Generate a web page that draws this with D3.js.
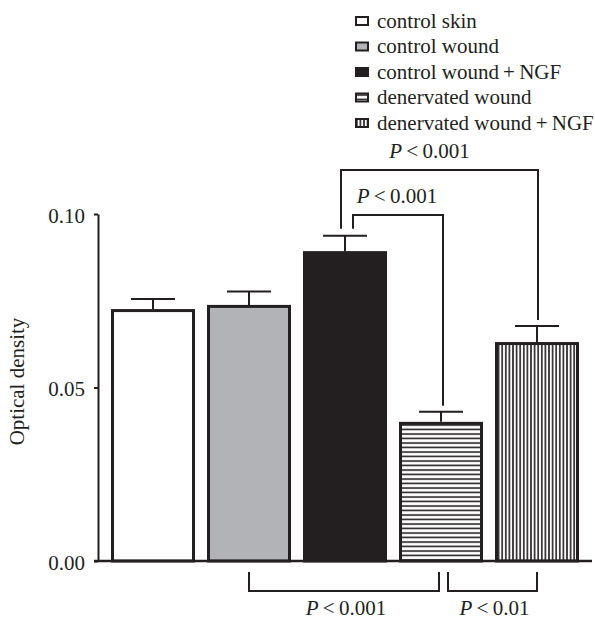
<!DOCTYPE html>
<html>
<head>
<meta charset="utf-8">
<script src="https://cdn.jsdelivr.net/npm/d3@7"></script>
<style>
  body { margin: 0; background: #fff; }
  svg text { font-family: "Liberation Serif", "Times New Roman", serif; fill: #231f20; }
</style>
</head>
<body>
<svg id="chart" width="595" height="619"></svg>
<script>
// Data
const groups = ['control skin', 'control wound', 'control wound\u2009+\u2009NGF',
                'denervated wound', 'denervated wound\u2009+\u2009NGF'];
const means = [0.0726, 0.0738, 0.0893, 0.0401, 0.0631];
const errTops = [0.0755, 0.0777, 0.0937, 0.0430, 0.0677];
const fills = ['#ffffff', '#b2b3b6', '#231f20', 'url(#hstripe)', 'url(#vstripe)'];
const yTicks = [0.00, 0.05, 0.10];

// comparisons above the bars (level in data units)
const topBrackets = [
  { from: 2, to: 4, level: 0.1127, label: '0.001', dx: -4 },
  { from: 2, to: 3, level: 0.0997, label: '0.001', dx: 8 }
];
// comparisons below the axis
const bottomBrackets = [
  { from: 1, to: 3, label: '0.001' },
  { from: 3, to: 4, label: '0.01' }
];

const ink = '#231f20';
const fs = 21;
const svg = d3.select('#chart');
const defs = svg.append('defs');

// stripe patterns
const hp = defs.append('pattern').attr('id', 'hstripe')
  .attr('patternUnits', 'userSpaceOnUse').attr('width', 8).attr('height', 4.5);
hp.append('rect').attr('width', 8).attr('height', 4.5).attr('fill', '#fff');
hp.append('line').attr('x1', 0).attr('x2', 8).attr('y1', 2).attr('y2', 2)
  .attr('stroke', ink).attr('stroke-width', 1.6);
const vp = defs.append('pattern').attr('id', 'vstripe')
  .attr('patternUnits', 'userSpaceOnUse').attr('width', 3.6).attr('height', 8);
vp.append('rect').attr('width', 3.6).attr('height', 8).attr('fill', '#fff');
vp.append('line').attr('y1', 0).attr('y2', 8).attr('x1', 1.8).attr('x2', 1.8)
  .attr('stroke', ink).attr('stroke-width', 1.6);

// scales
const x = d3.scaleBand()
  .domain(d3.range(groups.length))
  .range([105, 585])
  .paddingInner(0.125)
  .paddingOuter(0.0625);
const y = d3.scaleLinear().domain([0, 0.1]).range([561, 214]);
const axisX = 98;

// bars
const bars = svg.append('g').attr('class', 'bars');
bars.selectAll('rect')
  .data(means)
  .join('rect')
  .attr('x', (d, i) => x(i) + 1.5)
  .attr('width', x.bandwidth() - 3)
  .attr('y', d => y(d) + 1.5)
  .attr('height', d => y(0) - y(d) - 1.5)
  .attr('fill', (d, i) => fills[i])
  .attr('stroke', ink)
  .attr('stroke-width', 3);

// error bars (upper only)
const err = svg.append('g').attr('class', 'errors')
  .attr('stroke', ink).attr('stroke-width', 2);
errTops.forEach((e, i) => {
  const cx = x(i) + x.bandwidth() / 2;
  err.append('line').attr('x1', cx).attr('x2', cx).attr('y1', y(means[i])).attr('y2', y(e));
  err.append('line').attr('x1', cx - 22).attr('x2', cx + 22).attr('y1', y(e)).attr('y2', y(e));
});

// axes
const yAxis = svg.append('g')
  .attr('transform', `translate(${axisX},0)`)
  .call(d3.axisLeft(y).tickValues(yTicks).tickFormat(d3.format('.2f'))
    .tickSize(4).tickSizeOuter(0).tickPadding(9));
yAxis.select('.domain').attr('stroke', ink).attr('stroke-width', 2);
yAxis.selectAll('.tick line').attr('stroke', ink).attr('stroke-width', 2);
yAxis.selectAll('.tick text').attr('font-size', fs).attr('dy', '0.4em')
  .style('font-family', '"Liberation Serif", serif').attr('fill', ink);

svg.append('line')
  .attr('x1', axisX - 4).attr('x2', 592)
  .attr('y1', y(0)).attr('y2', y(0))
  .attr('stroke', ink).attr('stroke-width', 2.5);

svg.append('text')
  .attr('transform', `translate(24,${(y(0) + y(0.1)) / 2 - 6}) rotate(-90)`)
  .attr('text-anchor', 'middle')
  .attr('font-size', fs)
  .text('Optical density');

// P-value label helper
function pLabel(g, px, py, val) {
  const t = g.append('text').attr('x', px).attr('y', py)
    .attr('text-anchor', 'middle').attr('font-size', fs);
  t.append('tspan').attr('font-style', 'italic').text('P');
  t.append('tspan').text('\u2009<\u2009' + val);
}

const cx = i => x(i) + x.bandwidth() / 2;

// brackets above bars
const tb = svg.append('g').attr('fill', 'none');
topBrackets.forEach(b => {
  const x1 = cx(b.from) + b.dx;
  const x2 = cx(b.to) + (b.to === 3 ? 2 : 1);
  const yl = y(b.level);
  const path = d3.path();
  path.moveTo(x1, y(errTops[b.from]) - 7);
  path.lineTo(x1, yl);
  path.lineTo(x2, yl);
  path.lineTo(x2, y(errTops[b.to]) - 6);
  tb.append('path').attr('d', path.toString())
    .attr('stroke', ink).attr('stroke-width', 2);
  pLabel(svg, (x1 + x2) / 2 + (b.to === 4 ? -10 : -1), yl - 12, b.label);
});

// brackets below axis
const bb = svg.append('g');
bottomBrackets.forEach((b, k) => {
  const x1 = cx(b.from) + (k === 1 ? 7 : 0);
  const x2 = cx(b.to) - (k === 0 ? 2 : 0);
  const y1 = y(0) + 11, y2 = y(0) + 30;
  const path = d3.path();
  path.moveTo(x1, y1);
  path.lineTo(x1, y2);
  path.lineTo(x2, y2);
  path.lineTo(x2, y1);
  bb.append('path').attr('d', path.toString()).attr('fill', 'none')
    .attr('stroke', ink).attr('stroke-width', 2);
  pLabel(bb, (x1 + x2) / 2 + 2, y(0) + 54, b.label);
});

// legend
const legend = svg.append('g').attr('class', 'legend');
const rows = legend.selectAll('g')
  .data(groups)
  .join('g')
  .attr('transform', (d, i) => `translate(355,${21 + i * 25.5})`);
rows.append('rect')
  .attr('x', 1).attr('y', -4).attr('width', 12).attr('height', 8)
  .attr('fill', (d, i) => fills[i])
  .attr('stroke', ink).attr('stroke-width', 2);
rows.append('text')
  .attr('x', 22).attr('y', 0).attr('dy', '0.33em')
  .attr('font-size', fs)
  .text(d => d);
</script>
</body>
</html>
